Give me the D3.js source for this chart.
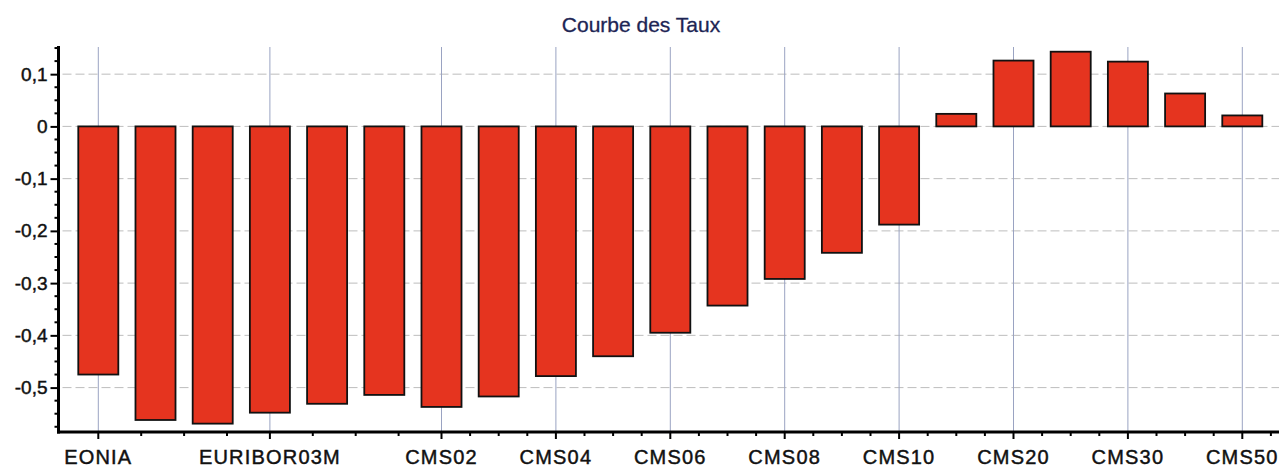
<!DOCTYPE html>
<html>
    <head>
        <meta charset="utf-8">
        <script src="https://cdn.jsdelivr.net/npm/d3@7"></script>
        <style>
            body {
                margin: 0;
                background: #fff;
            }
            * {
                font-family: "Liberation Sans", Arial, sans-serif;
            }
            .title {
                font-size: 21px;
                fill: #1d2554;
                stroke: #1d2554;
                stroke-width: 0.3px;
            }
            .axis text {
                fill: #111;
                stroke: #111;
                stroke-width: 0.45px;
            }
            .axis--y text {
                font-size: 19px;
            }
            .axis--x text {
                font-size: 20px;
                letter-spacing: 1.2px;
            }
            .axis line {
                stroke: #000;
                stroke-width: 2px;
            }
            .axis-line {
                stroke: #000;
                stroke-width: 3px;
            }
            .grid-h {
                stroke: #bdbdbd;
                stroke-width: 1px;
                stroke-dasharray: 9,4;
            }
            .grid-v {
                stroke: #9aa3c2;
                stroke-width: 1px;
            }
            .bar {
                fill: #e5341f;
                stroke: #111;
                stroke-width: 1.8px;
            }
        </style>
    </head>
    <body>
        <div id="chart"></div>
        <script>
            var categories = ["EONIA", "EURIBOR01W", "EURIBOR01M", "EURIBOR03M", "EURIBOR06M", "EURIBOR12M",
                "CMS02", "CMS03", "CMS04", "CMS05", "CMS06", "CMS07", "CMS08", "CMS09", "CMS10",
                "CMS15", "CMS20", "CMS25", "CMS30", "CMS40", "CMS50"];
            var rates = [-0.475, -0.562, -0.569, -0.548, -0.531, -0.514,
                -0.537, -0.517, -0.478, -0.440, -0.395, -0.343, -0.292, -0.242, -0.188,
                0.024, 0.126, 0.143, 0.124, 0.063, 0.021];
            var tickLabels = ["EONIA", "EURIBOR03M", "CMS02", "CMS04", "CMS06", "CMS08", "CMS10", "CMS20", "CMS30", "CMS50"];
            var yTicks = [0.1, 0, -0.1, -0.2, -0.3, -0.4, -0.5];

            var width = 1279,
                height = 471,
                axisX = 58.5,
                axisY = 432;

            var svg = d3.select("#chart").append("svg")
                .attr("width", width)
                .attr("height", height);

            var x = d3.scaleBand()
                .domain(categories)
                .range([69.7, 1270.9])
                .paddingInner(0.3)
                .paddingOuter(0.15);

            var y = d3.scaleLinear()
                .domain([-0.585, 0.152])
                .range([axisY, 47]);

            var xc = function(d) { return x(d) + x.bandwidth() / 2; };

            svg.append("text")
                .attr("class", "title")
                .attr("x", 641)
                .attr("y", 32)
                .attr("text-anchor", "middle")
                .text("Courbe des Taux");

            // grid
            svg.append("g").selectAll("line")
                .data(yTicks)
                .enter().append("line")
                .attr("class", "grid-h")
                .attr("x1", axisX + 4)
                .attr("x2", width)
                .attr("y1", function(d) { return y(d); })
                .attr("y2", function(d) { return y(d); });

            svg.append("g").selectAll("line")
                .data(tickLabels)
                .enter().append("line")
                .attr("class", "grid-v")
                .attr("x1", xc)
                .attr("x2", xc)
                .attr("y1", y(0.152))
                .attr("y2", axisY);

            // bars
            svg.append("g").selectAll("rect")
                .data(rates)
                .enter().append("rect")
                .attr("class", "bar")
                .attr("x", function(d, i) { return x(categories[i]); })
                .attr("width", x.bandwidth())
                .attr("y", function(d) { return y(Math.max(0, d)); })
                .attr("height", function(d) { return Math.abs(y(d) - y(0)); });

            // y axis
            var yAxis = d3.axisLeft(y)
                .tickValues(yTicks)
                .tickSize(8)
                .tickSizeOuter(0)
                .tickPadding(3)
                .tickFormat(function(d) {
                    if (d === 0) return "0";
                    return (d < 0 ? "-" : "") + Math.abs(d).toFixed(1).replace(".", ",");
                });

            var gy = svg.append("g")
                .attr("class", "axis axis--y")
                .attr("transform", "translate(" + axisX + ",0)")
                .call(yAxis);
            gy.select(".domain").remove();

            var yMinor = d3.range(-23, 7).map(function(i) { return i * 0.025; })
                .filter(function(v) { return Math.abs(Math.round(v * 40) % 4) !== 0; });
            gy.selectAll(".minor")
                .data(yMinor)
                .enter().append("line")
                .attr("class", "minor")
                .attr("x1", -4)
                .attr("x2", 0)
                .attr("y1", function(d) { return y(d); })
                .attr("y2", function(d) { return y(d); });

            // x axis
            var xAxis = d3.axisBottom(x)
                .tickValues(tickLabels)
                .tickSize(7)
                .tickSizeOuter(0)
                .tickPadding(11);

            var gx = svg.append("g")
                .attr("class", "axis axis--x")
                .attr("transform", "translate(0," + axisY + ")")
                .call(xAxis);
            gx.select(".domain").remove();

            var xMinor = [];
            for (var k = 0; k < tickLabels.length - 1; k++) {
                var a = xc(tickLabels[k]), b = xc(tickLabels[k + 1]);
                for (var m = 1; m < 4; m++) xMinor.push(a + (b - a) * m / 4);
            }
            xMinor.push(xc("CMS50") + (xc("CMS50") - xc("CMS30")) / 4);
            gx.selectAll(".minor")
                .data(xMinor)
                .enter().append("line")
                .attr("class", "minor")
                .attr("x1", function(d) { return d; })
                .attr("x2", function(d) { return d; })
                .attr("y1", 0)
                .attr("y2", 4);

            svg.append("line")
                .attr("class", "axis-line")
                .attr("x1", axisX).attr("x2", axisX)
                .attr("y1", 46).attr("y2", axisY + 1.5);
            svg.append("line")
                .attr("class", "axis-line")
                .attr("x1", axisX - 1.5).attr("x2", width)
                .attr("y1", axisY).attr("y2", axisY);
        </script>
    </body>
</html>
